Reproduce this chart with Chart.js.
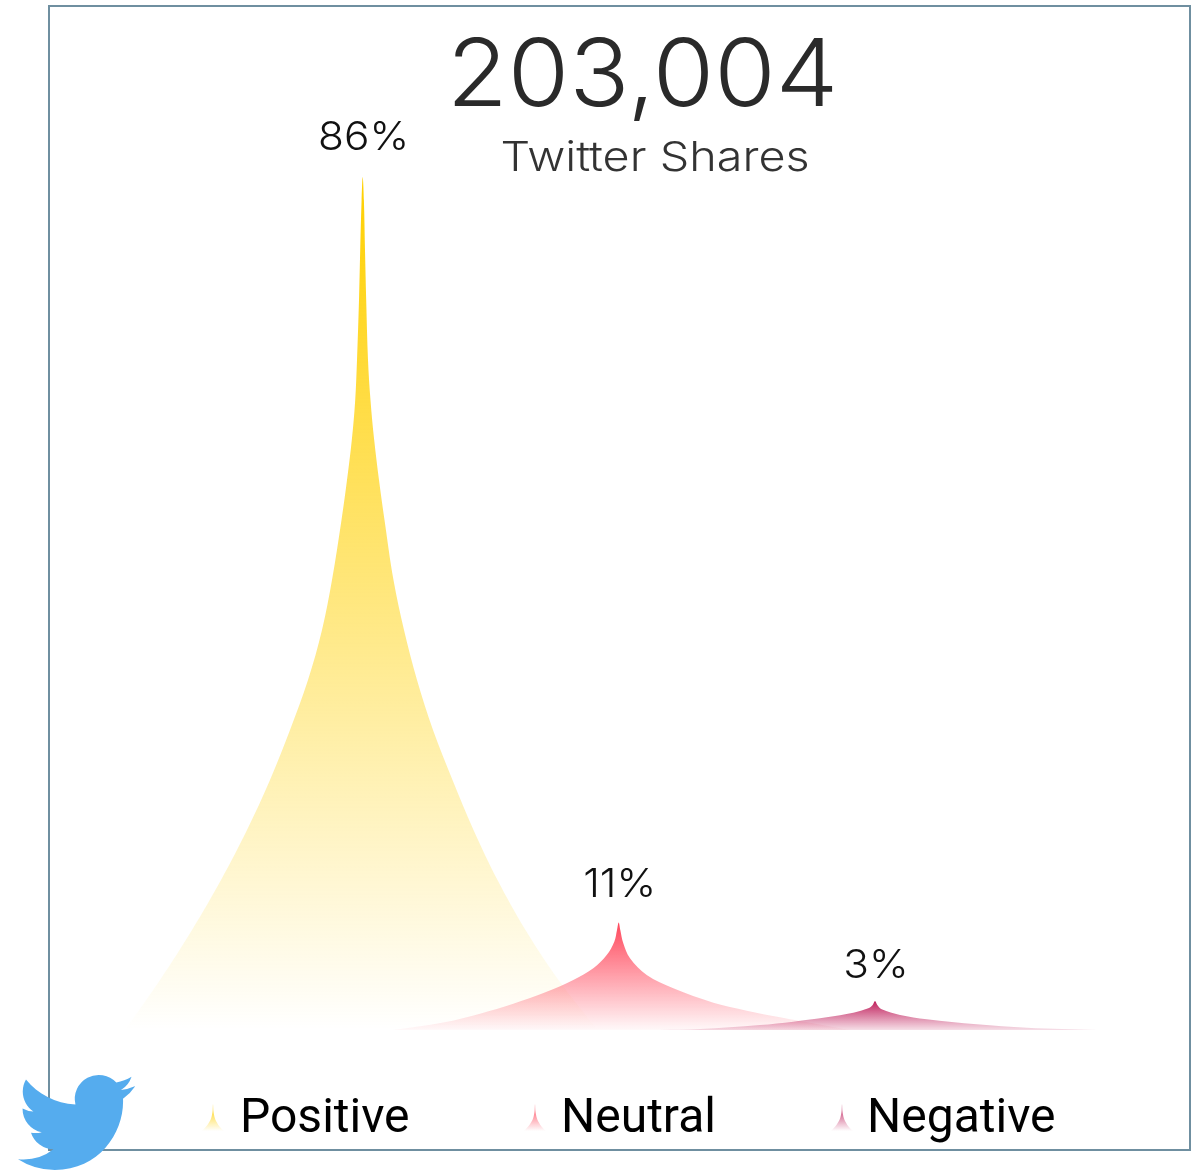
<!DOCTYPE html>
<html>
<head>
<meta charset="utf-8">
<title>Twitter Shares</title>
<script src="https://cdn.jsdelivr.net/npm/chart.js@4"></script>
<style>
  html, body { margin: 0; padding: 0; background: #fff; }
  #wrap { position: relative; width: 1204px; height: 1170px; overflow: hidden; }
  #bird { position: absolute; left: 18px; top: 1064px; width: 117px; height: 117px; }
</style>
</head>
<body>
<div id="wrap">
  <canvas id="myChart" width="1204" height="1170"></canvas>
  <svg id="bird" viewBox="0 0 24 24"><path fill="#55ACEE" d="M23.953 4.57a10 10 0 01-2.825.775 4.958 4.958 0 002.163-2.723c-.951.555-2.005.959-3.127 1.184a4.92 4.92 0 00-8.384 4.482C7.69 8.095 4.067 6.13 1.64 3.162a4.822 4.822 0 00-.666 2.475c0 1.71.87 3.213 2.188 4.096a4.904 4.904 0 01-2.228-.616v.06a4.923 4.923 0 003.946 4.827 4.996 4.996 0 01-2.212.085 4.936 4.936 0 004.604 3.417 9.867 9.867 0 01-6.102 2.105c-.39 0-.779-.023-1.17-.067a13.995 13.995 0 007.557 2.209c9.053 0 13.998-7.496 13.998-13.985 0-.21 0-.42-.015-.63A9.935 9.935 0 0024 4.59z"/></svg>
</div>
<script>
var totalValue = '203,004';
var totalLabel = 'Twitter Shares';
var categories = ['Positive', 'Neutral', 'Negative'];
var percentLabels = ['86%', '11%', '3%'];

// spike outlines
var positiveX = [6.9, 10.4, 13.6, 16.5, 19.1, 21.4, 23.4, 25.2, 26.6, 27.6, 28.55, 29.1, 29.58, 29.92, 30.1, 30.3, 30.42, 30.56, 30.67,
  30.79, 30.9, 31.02, 31.2, 31.45, 31.82, 32.3, 32.85, 33.75, 34.8, 36.1, 37.7, 39.65, 41.75, 44.15, 46.95, 50.25, 54.15];
var positiveY = [0, 5.04, 10.08, 15.12, 20.16, 25.2, 30.24, 35.28, 40.32, 45.36, 51.41, 55.44, 59.48, 63.5, 67.54, 73.59, 78.63, 83.67, 86,
  83.67, 78.63, 73.59, 67.54, 63.5, 59.48, 55.44, 51.41, 45.36, 40.32, 35.28, 30.24, 25.2, 20.16, 15.12, 10.08, 5.04, 0];

var neutralX = [33.7, 38.73, 42.4, 45.73, 49.07, 51.73, 53.73, 55.07, 55.83, 56.1, 56.27,
  56.43, 56.73, 57.4, 59.07, 61.73, 65.73, 69.07, 72.4, 74.4, 79.4];
var neutralY = [0, 0.75, 1.65, 2.65, 3.85, 5.04, 6.22, 7.56, 8.9, 10.08, 10.85,
  10.08, 8.74, 7.23, 5.54, 4.2, 2.75, 1.95, 1.28, 0.9, 0];

var negativeX = [60.4, 64.4, 70.4, 73.73, 77.07, 79.73, 81.23, 81.67, 81.9,
  82.13, 82.57, 84.4, 87.07, 92.07, 97.07, 104.07];
var negativeY = [0, 0.1, 0.5, 0.84, 1.28, 1.75, 2.19, 2.52, 2.92,
  2.52, 2.09, 1.51, 1.08, 0.57, 0.23, 0];

var seriesX = [positiveX, neutralX, negativeX];
var seriesY = [positiveY, neutralY, negativeY];
var seriesColors = ['255,208,0', '255,72,92', '192,32,92'];

var legendTextX = [240, 561, 867];
var legendIconX = [213, 535, 842];
var labelOffsets = [27, 25, 23];
var fadeOverrun = [0, 4, 5];

function toPoints(xs, ys) {
  return xs.map(function (x, i) { return { x: x, y: ys[i] }; });
}

function fadeFill(index) {
  return function (context) {
    var chart = context.chart;
    if (!chart.chartArea) return 'rgba(' + seriesColors[index] + ',0.5)';
    var yScale = chart.scales.y;
    var top = yScale.getPixelForValue(Math.max.apply(null, seriesY[index]));
    var bottom = yScale.getPixelForValue(0) + fadeOverrun[index];
    var gradient = chart.ctx.createLinearGradient(0, top, 0, bottom);
    gradient.addColorStop(0, 'rgba(' + seriesColors[index] + ',1)');
    gradient.addColorStop(1, 'rgba(' + seriesColors[index] + ',0)');
    return gradient;
  };
}

// small spike in front of each legend label, same outline as the positive series
function drawLegendIcon(ctx, index, centerX) {
  var maxY = 86, width = 22, height = 27, base = 1131;
  var midX = positiveX[positiveY.indexOf(maxY)];
  var spanX = positiveX[positiveX.length - 1] - positiveX[0];
  var gradient = ctx.createLinearGradient(0, base - height, 0, base);
  gradient.addColorStop(0, 'rgba(' + seriesColors[index] + ',1)');
  gradient.addColorStop(1, 'rgba(' + seriesColors[index] + ',0)');
  ctx.fillStyle = gradient;
  ctx.beginPath();
  positiveX.forEach(function (x, i) {
    var px = centerX + (x - midX) / spanX * width;
    var py = base - positiveY[i] / maxY * height;
    if (i === 0) ctx.moveTo(px, py); else ctx.lineTo(px, py);
  });
  ctx.closePath();
  ctx.fill();
}

// Montserrat is not installed, so widen the light Inter glyphs to its width
function wideText(ctx, text, x, y, stretch) {
  ctx.save();
  ctx.translate(x, y);
  ctx.scale(stretch, 1);
  ctx.fillText(text, 0, 0);
  ctx.restore();
}

var framePlugin = {
  id: 'frame',
  beforeDraw: function (chart) {
    var ctx = chart.ctx;
    ctx.save();
    ctx.strokeStyle = '#6F8FA0';
    ctx.lineWidth = 2;
    ctx.strokeRect(49, 6, 1141, 1144);
    ctx.restore();
  }
};

var textPlugin = {
  id: 'texts',
  afterDraw: function (chart) {
    var ctx = chart.ctx;
    var xScale = chart.scales.x;
    var yScale = chart.scales.y;
    ctx.save();
    ctx.textBaseline = 'alphabetic';

    ctx.textAlign = 'center';
    ctx.fillStyle = '#2A2A2A';
    ctx.font = '300 93px Inter';
    wideText(ctx, totalValue, 642.5, 106, 1.07);
    ctx.fillStyle = '#333333';
    ctx.font = '300 41px Inter';
    wideText(ctx, totalLabel, 655, 171, 1.14);

    ctx.fillStyle = '#111111';
    ctx.font = '300 40px Inter';
    percentLabels.forEach(function (label, i) {
      var peak = Math.max.apply(null, seriesY[i]);
      var peakX = seriesX[i][seriesY[i].indexOf(peak)];
      wideText(ctx, label, xScale.getPixelForValue(peakX) + 1, yScale.getPixelForValue(peak) - labelOffsets[i], 1.06);
    });

    ctx.textAlign = 'left';
    ctx.font = '400 48px Roboto';
    categories.forEach(function (name, i) {
      drawLegendIcon(ctx, i, legendIconX[i]);
      ctx.fillStyle = '#000000';
      ctx.fillText(name, legendTextX[i], 1132);
    });
    ctx.restore();
  }
};

var ctx = document.getElementById('myChart').getContext('2d');

var myChart = new Chart(ctx, {
  type: 'line',
  data: {
    datasets: categories.map(function (name, i) {
      return {
        label: name,
        data: toPoints(seriesX[i], seriesY[i]),
        backgroundColor: fadeFill(i),
        borderWidth: 0,
        pointRadius: 0,
        tension: 0.35,
        fill: 'origin',
        order: categories.length - i
      };
    })
  },
  options: {
    responsive: false,
    animation: false,
    layout: { padding: { left: 56, right: 0, top: 177, bottom: 140 } },
    plugins: {
      legend: { display: false },
      tooltip: { enabled: false }
    },
    scales: {
      x: { type: 'linear', min: 0, max: 114.8, display: false },
      y: { min: 0, max: 86, display: false }
    }
  },
  plugins: [framePlugin, textPlugin]
});
</script>
</body>
</html>
